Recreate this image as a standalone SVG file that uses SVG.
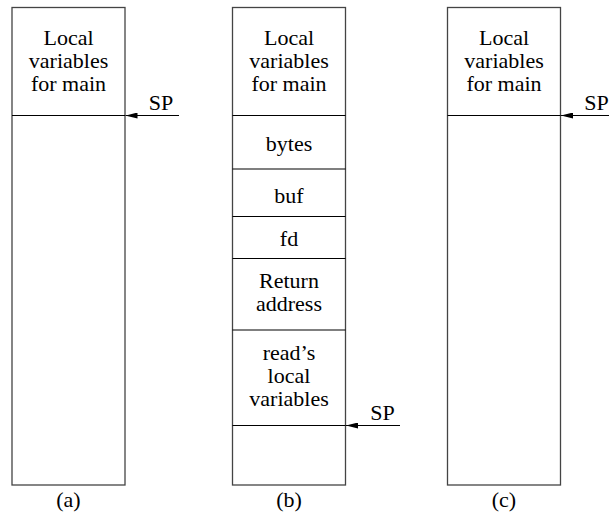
<svg xmlns="http://www.w3.org/2000/svg" width="609" height="516" viewBox="0 0 609 516">
  <style>
    text { font-family: "Liberation Serif", "Tinos", "Noto Serif", "Nimbus Roman", "Nimbus Roman No9 L", "FreeSerif", "DejaVu Serif", "Times New Roman", Times, serif; font-size: 22px; fill: #000; text-anchor: middle; }
    .frame { fill: #fff; stroke: #444; stroke-width: 1.3; }
    .sep { stroke: #000; stroke-width: 1.2; }
    .ptr { stroke: #000; stroke-width: 1.2; fill: none; marker-end: url(#head); }
  </style>
  <defs>
    <marker id="head" markerWidth="12" markerHeight="6" refX="12" refY="3" orient="auto" markerUnits="userSpaceOnUse">
      <path d="M0,0 L12,3 L0,6 Z" fill="#000"/>
    </marker>
  </defs>

  <!-- (a) stack before the call -->
  <g id="stack-a">
    <rect class="frame" x="12" y="7.5" width="113" height="477.5"/>
    <line class="sep" x1="12" y1="115.5" x2="125" y2="115.5"/>
    <text x="68.5" y="45">Local</text>
    <text x="68.5" y="68">variables</text>
    <text x="68.5" y="91">for main</text>
    <text x="68.5" y="507">(a)</text>
  </g>

  <!-- (b) stack during read -->
  <g id="stack-b">
    <rect class="frame" x="232.5" y="7.5" width="113" height="477.5"/>
    <line class="sep" x1="232.5" y1="115.5" x2="345.5" y2="115.5"/>
    <line class="sep" x1="232.5" y1="169" x2="345.5" y2="169"/>
    <line class="sep" x1="232.5" y1="216.5" x2="345.5" y2="216.5"/>
    <line class="sep" x1="232.5" y1="258.5" x2="345.5" y2="258.5"/>
    <line class="sep" x1="232.5" y1="330" x2="345.5" y2="330"/>
    <line class="sep" x1="232.5" y1="425.5" x2="345.5" y2="425.5"/>
    <text x="289" y="45">Local</text>
    <text x="289" y="68">variables</text>
    <text x="289" y="91">for main</text>
    <text x="289" y="151">bytes</text>
    <text x="289" y="203">buf</text>
    <text x="289" y="246">fd</text>
    <text x="289" y="288">Return</text>
    <text x="289" y="311">address</text>
    <text x="289" y="360">read’s</text>
    <text x="289" y="383">local</text>
    <text x="289" y="406">variables</text>
    <text x="289" y="507">(b)</text>
  </g>

  <!-- (c) stack after return -->
  <g id="stack-c">
    <rect class="frame" x="447.5" y="7.5" width="113" height="477.5"/>
    <line class="sep" x1="447.5" y1="115.5" x2="560.5" y2="115.5"/>
    <text x="504" y="45">Local</text>
    <text x="504" y="68">variables</text>
    <text x="504" y="91">for main</text>
    <text x="504" y="507">(c)</text>
  </g>

  <!-- stack pointer arrows -->
  <g id="connectors">
    <line class="ptr" x1="179" y1="115.5" x2="125.5" y2="115.5"/>
    <text x="161" y="110">SP</text>
    <line class="ptr" x1="400" y1="425.5" x2="346" y2="425.5"/>
    <text x="382.5" y="420">SP</text>
    <line class="ptr" x1="609" y1="115.5" x2="561" y2="115.5"/>
    <text x="596.5" y="110">SP</text>
  </g>
</svg>
